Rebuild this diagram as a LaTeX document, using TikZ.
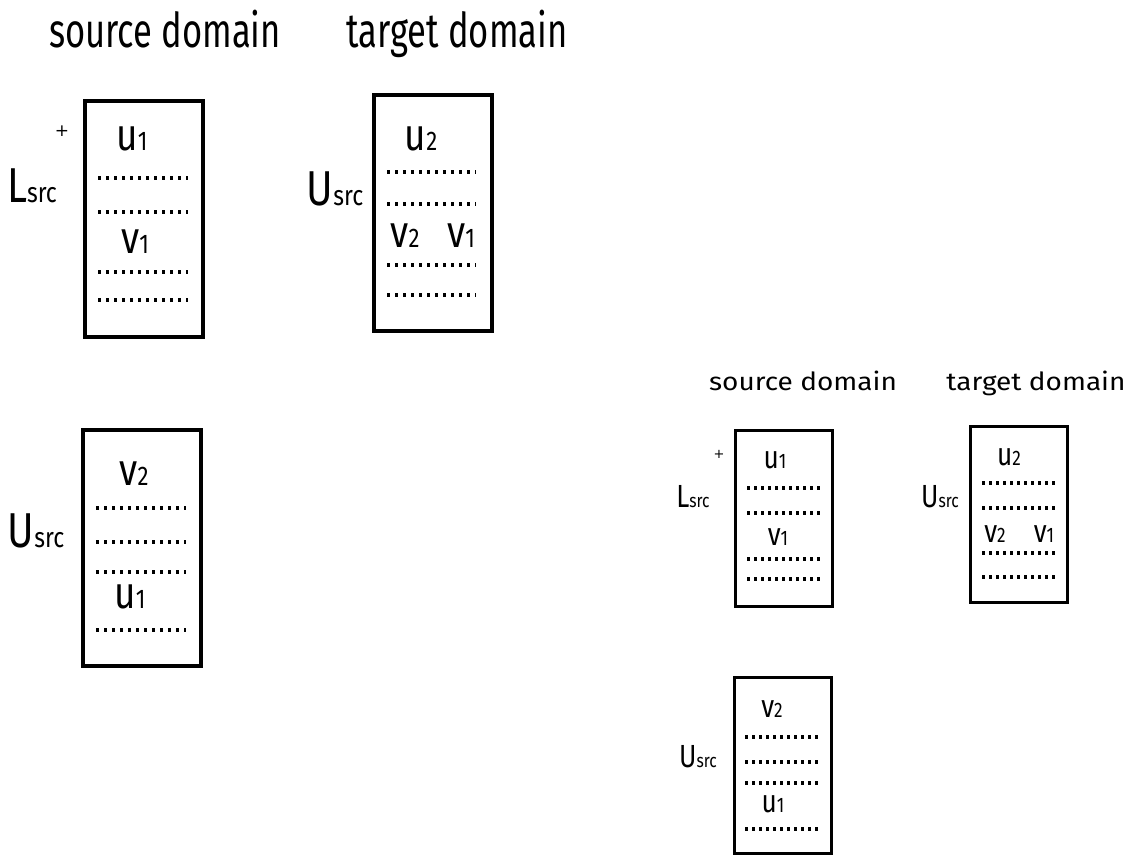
\documentclass[tikz,border=0pt]{standalone}
\usepackage{fontspec}
\setmainfont{Fira Sans}[FakeStretch=0.82]
\newfontfamily\narrowface{Fira Sans}[FakeStretch=0.72]
\newfontfamily\wideface{Fira Sans}[FakeStretch=1.12]
\newfontfamily\plusface{DejaVu Sans}

% letter with a small index on the baseline
\newcommand\bigent[2]{{\fontsize{45}{45}\selectfont #1\fontsize{27}{27}\selectfont #2}}
\newcommand\smallent[2]{{\fontsize{32}{32}\selectfont #1\fontsize{21}{21}\selectfont #2}}
\newcommand\biglab[1]{{\fontsize{49}{49}\selectfont #1\fontsize{28}{28}\selectfont src}}
\newcommand\smalllab[1]{{\fontsize{32}{32}\selectfont #1\fontsize{19}{19}\selectfont src}}
\newcommand\plussign[1]{{\plusface\fontsize{#1}{#1}\selectfont +}}

\tikzset{bigbox/.style={draw, line width=4pt, inner sep=0pt,
        minimum width=118pt, minimum height=236pt},
    smallbox/.style={draw, line width=3pt, inner sep=0pt,
        minimum width=97pt, minimum height=176pt},
    txt/.style={anchor=base, inner sep=0pt},
    bighead/.style={txt, font=\narrowface\fontsize{48}{48}\selectfont},
    smallhead/.style={txt, font=\wideface\fontsize{25}{25}\selectfont},
    bigdots/.style={line width=4.5pt, dash pattern=on 3pt off 5pt},
    smalldots/.style={line width=3.5pt, dash pattern=on 2.5pt off 4.5pt},
    }

\begin{document}
\begin{tikzpicture}[x=1pt,y=-1pt]
	\useasboundingbox (0,0) rectangle (1130,855);
	% big version
	\node[bighead] (bigSrc) at (165,47) {source domain};
	\node[bighead] (bigTgt) at (457,47) {target domain};
	\node[bigbox] (bigL) at (143.5,219) {};
	\node[bigbox] (bigT) at (432.5,212.5) {};
	\node[bigbox] (bigU) at (141.5,547.5) {};
	\node[anchor=center, inner sep=0pt] (bigPlus) at (62,131) {\plussign{17}};
	\node[txt] (bigLsrc) at (32,202) {\biglab{L}};
	\node[txt] (bigUsrcT) at (335,205) {\biglab{U}};
	\node[txt] (bigUsrc) at (36,547) {\biglab{U}};
	\node[txt] (bigLu1) at (132,150) {\bigent{u}{1}};
	\node[txt] (bigLv1) at (135,253) {\bigent{v}{1}};
	\node[txt] (bigTu2) at (421,150) {\bigent{u}{2}};
	\node[txt] (bigTv2) at (405,247) {\bigent{v}{2}};
	\node[txt] (bigTv1) at (461,247) {\bigent{v}{1}};
	\node[txt] (bigUv2) at (134,485) {\bigent{v}{2}};
	\node[txt] (bigUu1) at (130,608) {\bigent{u}{1}};
	\foreach \y in {178,212,272,300}
		\draw[bigdots] (98,\y) -- (188,\y);
	\foreach \y in {172,204,265,295}
		\draw[bigdots] (387,\y) -- (476,\y);
	\foreach \y in {508,542,572,630}
		\draw[bigdots] (96,\y) -- (186,\y);

	% small version
	\node[smallhead] (smallSrc) at (803,390) {source domain};
	\node[smallhead] (smallTgt) at (1036,390) {target domain};
	\node[smallbox] (smallL) at (784,518) {};
	\node[smallbox] (smallT) at (1019,514) {};
	\node[smallbox] (smallU) at (782.5,765.5) {};
	\node[anchor=center, inner sep=0pt] (smallPlus) at (719,454) {\plussign{13}};
	\node[txt] (smallLsrc) at (693,507) {\smalllab{L}};
	\node[txt] (smallUsrcT) at (940,507) {\smalllab{U}};
	\node[txt] (smallUsrc) at (698,767) {\smalllab{U}};
	\node[txt] (smallLu1) at (775,468) {\smallent{u}{1}};
	\node[txt] (smallLv1) at (778,545) {\smallent{v}{1}};
	\node[txt] (smallTu2) at (1009,465) {\smallent{u}{2}};
	\node[txt] (smallTv2) at (995,542) {\smallent{v}{2}};
	\node[txt] (smallTv1) at (1044,542) {\smallent{v}{1}};
	\node[txt] (smallUv2) at (772,717) {\smallent{v}{2}};
	\node[txt] (smallUu1) at (773,812) {\smallent{u}{1}};
	\foreach \y in {488,513,559,579}
		\draw[smalldots] (747,\y) -- (821,\y);
	\foreach \y in {483,508,553,577}
		\draw[smalldots] (982,\y) -- (1056,\y);
	\foreach \y in {737,762,783,829}
		\draw[smalldots] (745,\y) -- (819,\y);
\end{tikzpicture}
\end{document}
